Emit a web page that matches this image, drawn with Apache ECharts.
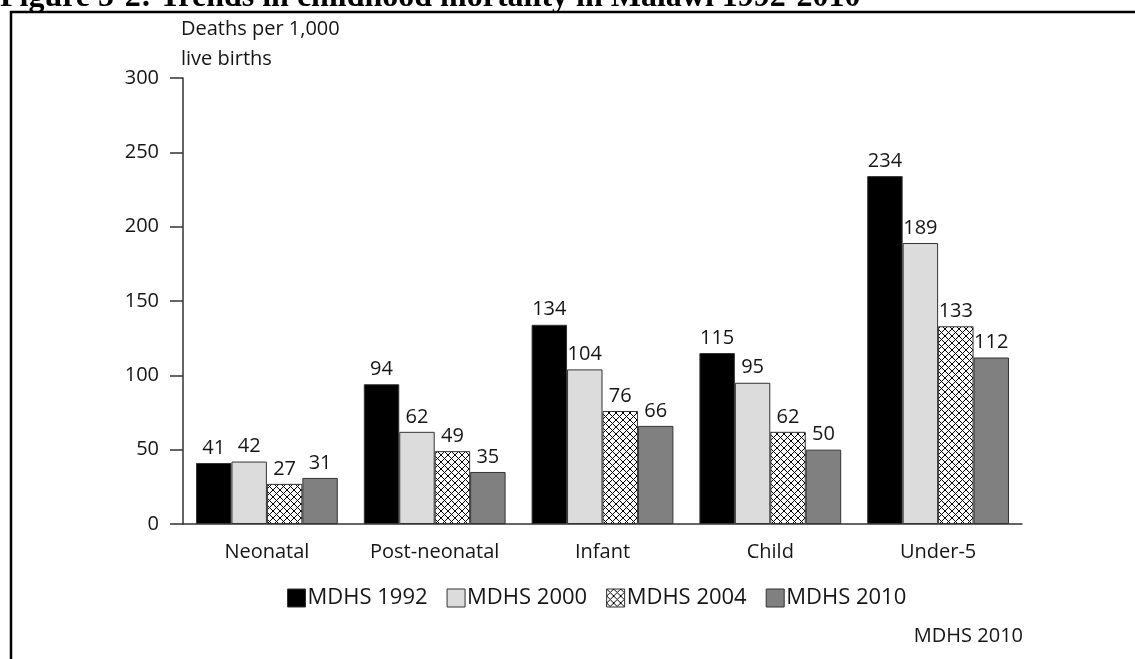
<!DOCTYPE html>
<html>
<head>
<meta charset="utf-8">
<title>Trends in childhood mortality in Malawi 1992-2010</title>
<script src="https://cdn.jsdelivr.net/npm/echarts@6/dist/echarts.min.js"></script>
<style>
  html, body { margin: 0; padding: 0; background: #fff; }
  #chart { width: 1135px; height: 659px; }
</style>
</head>
<body>
<div id="chart"></div>
<script>
// Childhood mortality rates, deaths per 1,000 live births
const categories = ['Neonatal', 'Post-neonatal', 'Infant', 'Child', 'Under-5'];
const seriesNames = ['MDHS 1992', 'MDHS 2000', 'MDHS 2004', 'MDHS 2010'];
const mdhs1992 = [41, 94, 134, 115, 234];
const mdhs2000 = [42, 62, 104, 95, 189];
const mdhs2004 = [27, 49, 76, 62, 133];
const mdhs2010 = [31, 35, 66, 50, 112];
const yTicks = [0, 50, 100, 150, 200, 250, 300];

// Cross-hatch fill used for the 2004 survey
function crossHatch() {
  const size = 7;
  const c = document.createElement('canvas');
  c.width = size; c.height = size;
  const ctx = c.getContext('2d');
  ctx.fillStyle = '#ffffff';
  ctx.fillRect(0, 0, size, size);
  ctx.strokeStyle = '#000000';
  ctx.lineWidth = 1;
  ctx.beginPath();
  ctx.moveTo(0, 0); ctx.lineTo(size, size);
  ctx.moveTo(size, 0); ctx.lineTo(0, size);
  ctx.stroke();
  return c;
}

const fonts = '"Open Sans", "Noto Sans", sans-serif';
const textColor = '#151515';
const fs = 20;
const fills = ['#000000', '#dcdcdc', { image: crossHatch(), repeat: 'repeat' }, '#808080'];
const values = [mdhs1992, mdhs2000, mdhs2004, mdhs2010];

const chart = echarts.init(document.getElementById('chart'), null, { renderer: 'canvas' });

chart.setOption({
  animation: false,
  backgroundColor: '#ffffff',
  textStyle: { fontFamily: fonts, color: textColor },
  grid: { left: 183, right: 113, top: 78, bottom: 135, containLabel: false },
  legend: {
    data: seriesNames,
    top: 582,
    left: 282,
    itemWidth: 18,
    itemHeight: 18,
    itemGap: 19,
    icon: 'rect',
    selectedMode: false,
    textStyle: { fontFamily: fonts, fontSize: 22, color: textColor, padding: [0, 0, 0, -3] },
    itemStyle: { borderColor: '#333', borderWidth: 1 }
  },
  xAxis: {
    type: 'category',
    data: categories,
    axisLine: { lineStyle: { color: '#333', width: 1.5 } },
    axisTick: { show: false },
    axisLabel: { fontFamily: fonts, fontSize: fs, color: textColor, margin: 18, interval: 0 }
  },
  yAxis: {
    type: 'value',
    min: yTicks[0],
    max: yTicks[yTicks.length - 1],
    interval: 50,
    name: 'Deaths per 1,000\nlive births',
    nameLocation: 'end',
    nameGap: 4,
    nameTextStyle: { fontFamily: fonts, fontSize: fs, color: textColor, align: 'left', lineHeight: 30, padding: [0, 0, 0, -2] },
    axisLine: { show: true, lineStyle: { color: '#333', width: 1.5 } },
    axisTick: { show: true, inside: false, length: 13, lineStyle: { color: '#333', width: 1.5 } },
    splitLine: { show: false },
    axisLabel: { fontFamily: fonts, fontSize: fs, color: textColor, margin: 24 }
  },
  series: seriesNames.map((name, i) => ({
    name,
    type: 'bar',
    data: values[i],
    barGap: '0%',
    barCategoryGap: '15.5%',
    itemStyle: { color: fills[i], borderColor: '#333', borderWidth: 1 },
    label: {
      show: true,
      position: 'top',
      distance: 5,
      fontFamily: fonts,
      fontSize: fs,
      color: textColor
    }
  })),
  graphic: [
    {
      type: 'text',
      left: 0,
      top: -18,
      style: {
        text: 'Figure 5-2: Trends in childhood mortality in Malawi 1992-2010',
        font: 'bold 32px "Liberation Serif", "Times New Roman", serif',
        fill: '#000'
      }
    },
    {
      type: 'polyline',
      shape: { points: [[11, 659], [11, 12], [1135, 12]] },
      style: { stroke: '#000', lineWidth: 2.5, fill: null }
    },
    {
      type: 'text',
      right: 112,
      top: 626,
      style: {
        text: 'MDHS 2010',
        font: '20px "Open Sans", "Noto Sans", sans-serif',
        fill: textColor
      }
    }
  ]
});
</script>
</body>
</html>
